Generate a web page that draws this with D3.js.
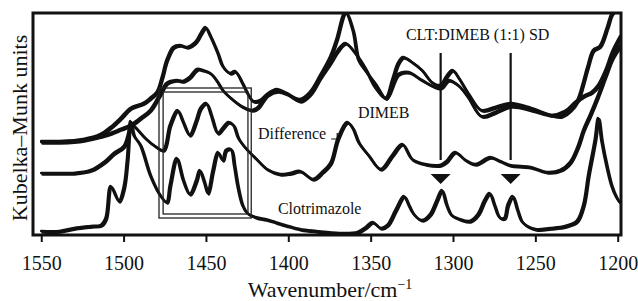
<!DOCTYPE html>
<html>
<head>
<meta charset="utf-8">
<script src="https://cdnjs.cloudflare.com/ajax/libs/d3/7.8.5/d3.min.js"></script>
<style>
body { margin: 0; background: #fff; }
svg text { font-family: "Liberation Serif", "Times New Roman", serif; fill: #111; }
</style>
</head>
<body>
<div id="chart"></div>
<script>
// wavenumber (cm-1) ticks
var tickValues = [1550, 1500, 1450, 1400, 1350, 1300, 1250, 1200];

// [wavenumber, Kubelka-Munk (arbitrary, offset stacked)]
var sdSpectrum = [[1550,94],[1539,94],[1524.5,96],[1514,101],[1508,108],[1502,117],[1496,127],[1488,132],[1484,137],[1480,143],[1477,157],[1474,175],[1470,188],[1466,190],[1461.5,188],[1456.5,193],[1452.5,204],[1450.5,208],[1447.5,199],[1443,182],[1440,169],[1435.5,162],[1432.5,164],[1428,152],[1425,142],[1421.5,134],[1417,135],[1413,141],[1407,146],[1401,142],[1393,136],[1387,143],[1381,159],[1374.5,179],[1371,195],[1365.5,223],[1361,205],[1357.5,175],[1353.5,165],[1347.5,152],[1341,137],[1337,155],[1333.5,172],[1330.5,178],[1325,173],[1319,165],[1313,153],[1308,150],[1304,159],[1300.5,165],[1297,158],[1291,142],[1283,125],[1274.5,128],[1265,132],[1252.5,127],[1240.5,120],[1234.5,119],[1229,125],[1224.5,135],[1221.5,150],[1218.5,168],[1215,185],[1211,189],[1206.5,208],[1203.5,222],[1198.5,228]];

var dimebSpectrum = [[1550,93],[1539,93],[1524.5,95],[1514,99],[1508,102],[1502,106],[1496,110],[1490,117],[1484,125],[1478,141],[1474,152],[1468,155],[1464,154],[1460,158],[1455.5,166],[1452,165],[1447.5,162],[1443,153],[1440,145],[1433.5,135],[1427.5,128],[1422,125],[1418.5,128],[1413,140],[1407,144],[1401,141],[1393,134],[1387,141],[1381,157],[1374.5,173],[1370,185],[1365.5,192],[1359.5,182],[1353.5,167],[1347.5,148],[1341,137],[1333.5,161],[1327,163],[1319,155],[1308,147],[1303,155],[1297,150],[1291,138],[1283,119],[1274.5,123],[1265,129],[1252.5,125],[1240.5,120],[1232,124],[1226,133],[1221,139],[1216,143],[1212,150],[1207.5,165],[1203.5,183],[1198.5,199]];

var diffSpectrum = [[1550,62],[1539,62],[1531,62],[1520,65],[1512,73],[1506,82],[1500,89],[1497,103],[1495.5,111],[1492.5,107],[1487,97],[1481,89],[1476,85],[1472,110],[1467.5,125],[1464,113],[1460,100],[1456,115],[1453.5,127],[1450,132],[1447,120],[1443,102],[1440,107],[1436.5,113],[1433.5,110],[1430.5,97],[1426,87],[1420,77],[1413,66],[1405,61],[1399,62],[1393,64],[1385,56],[1379.5,63],[1374.5,72],[1370,97],[1364.5,113],[1361,107],[1357.5,93],[1351.5,80],[1344,66],[1337,80],[1331,91],[1325,76],[1317,71],[1308,70],[1304,74],[1299,83],[1292.5,75],[1286.5,71],[1277.5,78],[1271.5,74],[1265.5,70],[1259,69],[1253,68],[1243,63],[1235,65],[1229,73],[1224.5,88],[1221,105],[1217,120],[1212.5,138],[1207.5,160],[1203.5,177],[1198.5,190]];

var clotSpectrum = [[1550,4],[1539,4],[1530,7],[1520,9],[1514,10],[1511,17],[1508,49],[1503,34],[1500,48],[1498,75],[1496,114],[1494,100],[1490,90],[1484,60],[1478,40],[1474,33],[1472,50],[1468,77],[1464,55],[1460,41],[1456,55],[1454,65],[1451,52],[1449,42],[1446,65],[1443,83],[1440,75],[1438,85],[1435,86],[1433,70],[1431,50],[1428,30],[1425,22],[1420,18],[1414,16],[1408,13],[1402,10],[1393,6],[1383,4],[1369,2],[1358,3],[1353,8],[1349,13],[1344,7],[1340,10],[1335,25],[1330,39],[1327,30],[1324,21],[1319,15],[1314,21],[1310,35],[1307,45],[1304,30],[1301,20],[1296,16],[1290,14],[1285,21],[1281,35],[1278,42],[1275,30],[1272,18],[1269,17],[1267,30],[1264,39],[1261,25],[1258,13],[1250,6],[1241,7],[1232,9],[1225,14],[1221,30],[1218,60],[1214,95],[1212,117],[1210,95],[1207,70],[1204,50],[1201,38],[1199,33]];

// marked bands
var markerWaves = [1307.5, 1265];
// boxed region [left, right, bottom, top]
var boxOuter = [1478.5, 1422.5, 17, 147];
var boxInner = [1476, 1424.5, 21, 143];

var W = 638, H = 301;
var svg = d3.select("#chart").append("svg")
    .attr("width", W)
    .attr("height", H);

var x = d3.scaleLinear().domain([1555, 1198]).range([33, 621]);
var y = d3.scaleLinear().domain([0, 222]).range([235, 13]);

svg.append("clipPath").attr("id", "plotclip")
  .append("rect")
    .attr("x", x(1555)).attr("y", y(222))
    .attr("width", x(1198) - x(1555)).attr("height", y(0) - y(222));

var line = d3.line()
    .x(function(d) { return x(d[0]); })
    .y(function(d) { return y(d[1]); })
    .curve(d3.curveCatmullRom.alpha(0.5));

var plot = svg.append("g").attr("clip-path", "url(#plotclip)");

// the original pen gives a slanted stroke, so each curve is drawn twice
[sdSpectrum, dimebSpectrum, diffSpectrum, clotSpectrum].forEach(function(s) {
  [0, 1.4].forEach(function(off) {
    plot.append("path")
        .datum(s)
        .attr("transform", "translate(" + off + "," + off + ")")
        .attr("d", line)
        .attr("fill", "none")
        .attr("stroke", "#111")
        .attr("stroke-width", 2.6)
        .attr("stroke-linejoin", "round")
        .attr("stroke-linecap", "round");
  });
});

// double box
[boxOuter, boxInner].forEach(function(b) {
  svg.append("rect")
      .attr("x", x(b[0]))
      .attr("y", y(b[3]))
      .attr("width", x(b[1]) - x(b[0]))
      .attr("height", y(b[2]) - y(b[3]))
      .attr("fill", "none")
      .attr("stroke", "#222")
      .attr("stroke-width", 1.3);
});

// vertical marker lines and triangles
markerWaves.forEach(function(w) {
  svg.append("line")
      .attr("x1", x(w)).attr("x2", x(w))
      .attr("y1", y(182)).attr("y2", y(75))
      .attr("stroke", "#111")
      .attr("stroke-width", 2.2);
  var cx = x(w);
  svg.append("path")
      .attr("d", "M" + (cx - 10) + "," + y(61) + "L" + (cx + 10) + "," + y(61) + "L" + cx + "," + y(51) + "Z")
      .attr("fill", "#111");
});

// frame
svg.append("rect")
    .attr("x", x(1555)).attr("y", y(222))
    .attr("width", x(1198) - x(1555)).attr("height", y(0) - y(222))
    .attr("fill", "none")
    .attr("stroke", "#111")
    .attr("stroke-width", 3);

// x axis
var xAxis = svg.append("g")
    .attr("transform", "translate(0," + y(0) + ")")
    .call(d3.axisBottom(x).tickValues(tickValues).tickSize(7).tickPadding(14).tickFormat(d3.format("d")));
xAxis.select(".domain").remove();
xAxis.selectAll(".tick line").attr("stroke", "#111").attr("stroke-width", 2);
xAxis.selectAll(".tick text")
    .style("font-family", "'Liberation Serif', serif")
    .attr("font-size", 20)
    .attr("fill", "#111");

// axis titles
var xt = svg.append("text")
    .attr("x", 330).attr("y", 297)
    .attr("text-anchor", "middle")
    .attr("font-size", 22);
xt.append("tspan").text("Wavenumber/cm");
xt.append("tspan").attr("dy", -8).attr("font-size", 14).text("\u22121");

svg.append("text")
    .attr("transform", "translate(27,128) rotate(-90)")
    .attr("text-anchor", "middle")
    .attr("font-size", 22)
    .text("Kubelka\u2013Munk units");

// curve labels
var labels = [
  { t: "CLT:DIMEB (1:1) SD", w: 1328.6, v: 195 },
  { t: "DIMEB", w: 1357.7, v: 117 },
  { t: "Difference", w: 1418.4, v: 96 },
  { t: "Clotrimazole", w: 1406.3, v: 21 }
];
labels.forEach(function(l) {
  svg.append("text")
      .attr("x", x(l.w)).attr("y", y(l.v))
      .attr("font-size", 16)
      .text(l.t);
});

// little hook arrow after "Difference"
var hx = x(1371.5), hy = y(101);
svg.append("path")
    .attr("d", "M" + (hx - 4) + "," + (hy + 5) + "L" + (hx + 2) + "," + (hy + 5) + "L" + (hx + 2) + "," + (hy - 1))
    .attr("fill", "none")
    .attr("stroke", "#111")
    .attr("stroke-width", 1.2);
</script>
</body>
</html>
